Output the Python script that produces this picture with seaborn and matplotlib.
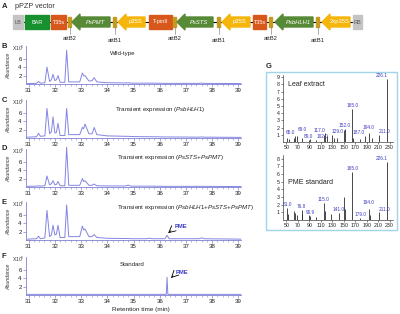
import matplotlib
matplotlib.use('Agg')
import matplotlib.pyplot as plt
from matplotlib.patches import Rectangle, Polygon
import seaborn as sns

sns.set_theme(style='white')
plt.rcParams['font.family'] = ['Liberation Sans', 'DejaVu Sans']
plt.rcParams['mathtext.fontset'] = 'custom'
plt.rcParams['mathtext.it'] = 'Liberation Sans:italic'
plt.rcParams['mathtext.rm'] = 'Liberation Sans'

W, H = 400, 314

# ---- panel A: construct elements (left to right) ----
parts = ['LB', 'BAR', 'T35s', 'attB2', 'PsPMT', 'attB1', 'p35S', 'T-pinII', 'attB2',
         'PsSTS', 'attB1', 'p35S', 'T35s', 'attB2', 'PsbHLH1', 'attB1', '2xp35S', 'RB']
kinds = ['end', 'bar', 'term', 'att', 'gene', 'att', 'prom', 'term', 'att',
         'gene', 'att', 'prom', 'term', 'att', 'gene', 'att', 'prom', 'end']
spans = [(13, 23), (25, 49), (51, 66), (68, 71), (72, 110), (113, 116), (118, 145),
         (149, 172), (173, 176), (177, 213), (217, 220), (222, 250), (253, 266),
         (269, 272), (275, 313), (316, 319), (322, 350), (353, 362)]

# ---- panels B-F: chromatogram vertices (retention time, abundance x10^6) ----
rt = [30.95, 31.3, 31.38, 31.45, 31.62, 31.7, 31.8, 31.87, 31.93, 32.0, 32.06, 32.12, 32.2,
      32.38, 32.45, 32.53, 32.95, 33.05, 33.1, 33.15, 33.3, 33.42, 33.5, 33.6, 34.0,
      34.7, 34.8, 34.9, 35.5, 35.6, 35.7, 36.2, 36.28, 36.36, 37.5, 37.6, 37.7, 39.1]
abund_wt = [0.1, 0.15, 0.6, 0.2, 0.3, 4.0, 0.6, 1.0, 2.3, 0.8, 1.0, 2.0, 0.4, 0.4, 8.0, 0.5,
            0.5, 2.6, 1.9, 2.0, 0.7, 0.8, 1.5, 0.5, 0.3, 0.25, 0.3, 0.2, 0.2, 0.2, 0.2,
            0.15, 0.15, 0.15, 0.15, 0.2, 0.15, 0.1]
abund_bhlh = [0.2, 0.3, 1.1, 0.4, 0.5, 7.0, 1.0, 1.5, 5.0, 1.2, 1.3, 3.5, 0.6, 0.6, 7.0, 0.8,
              0.8, 2.5, 2.2, 3.3, 1.0, 1.0, 2.5, 0.8, 0.5, 0.4, 0.4, 0.35, 0.3, 0.3, 0.3,
              0.25, 0.25, 0.25, 0.2, 0.25, 0.2, 0.15]
abund_sts_pmt = [0.15, 0.2, 0.3, 0.2, 0.3, 2.6, 0.5, 0.8, 1.5, 0.5, 0.6, 1.3, 0.3, 0.3, 9.4,
                 0.4, 0.4, 2.0, 1.3, 1.5, 0.4, 0.4, 0.7, 0.3, 0.25, 0.25, 0.45, 0.2, 0.2,
                 0.2, 0.2, 0.15, 0.15, 0.15, 0.15, 0.15, 0.15, 0.1]
abund_all3 = [0.2, 0.3, 0.9, 0.3, 0.5, 7.0, 0.8, 1.2, 3.5, 1.2, 1.4, 3.5, 0.6, 0.6, 8.3, 0.8,
              0.8, 3.3, 2.4, 2.6, 0.8, 0.8, 1.3, 0.6, 0.4, 0.35, 0.35, 0.3, 0.3, 0.45, 0.3,
              0.3, 1.1, 0.3, 0.3, 0.5, 0.3, 0.2]
rt_std = [30.95, 36.25, 36.28, 36.31, 39.1]
abund_std = [0.15, 0.15, 4.2, 0.15, 0.15]

# ---- panel G: mass spectra ----
mz_leaf = [51, 55, 63, 65, 69, 77, 89, 91, 102, 115, 117, 120, 129, 133, 139, 150, 152,
           165, 167, 179, 187, 194, 200, 211, 226.1]
int_leaf = [0.5, 0.4, 0.6, 0.9, 0.9, 0.6, 0.3, 0.4, 0.3, 1.0, 1.2, 0.8, 1.0, 0.6, 0.5,
            1.6, 1.8, 4.6, 0.5, 0.4, 0.9, 1.3, 0.5, 1.0, 8.8]
lab_leaf = ['65.0', '69.0', '89.0', '102.0', '117.0', '129.0', '152.0', '165.0', '187.0',
            '194.0', '211.0', '226.1']
mz_std = [51, 53, 63, 65, 69, 76.8, 78, 89, 90.9, 102, 115, 117, 128, 141, 150, 152, 165,
          179, 194, 195, 211, 226.1]
int_std = [1.6, 0.8, 1.2, 0.9, 0.7, 1.3, 0.8, 0.6, 0.5, 0.4, 2.2, 1.2, 0.8, 0.9, 3.0, 1.5,
           6.3, 0.3, 1.5, 0.6, 1.0, 7.6]
lab_std = ['51.0', '76.8', '90.9', '115.0', '141.0', '165.0', '179.0', '194.0', '211.0',
           '226.1']

TRACE = '#8484e4'
AXC = '#8080d0'
LABC = '#3b3bc0'

# label placement (alignment, extra lift) to keep crowded peak labels apart
place = {'65.0': ('right', 0.1), '69.0': ('left', 0.45), '89.0': ('center', 0.1),
         '102.0': ('left', 0.1), '117.0': ('right', 0.1), '129.0': ('left', 0.1),
         '187.0': ('right', 0.1), '194.0': ('center', 0.4), '211.0': ('left', 0.1),
         '226.1': ('right', 0.1), '179.0': ('center', 0.1)}


def rect(x0, y0, x1, y1):
    return [x0 / W, 1 - y1 / H, (x1 - x0) / W, (y1 - y0) / H]


fig = plt.figure(figsize=(4, 3.14), dpi=100)
ax0 = fig.add_axes([0, 0, 1, 1])
ax0.set_xlim(0, W)
ax0.set_ylim(H, 0)
ax0.axis('off')

# panel A
ax0.text(2, 6, 'A', fontsize=5.5, fontweight='bold', va='center')
ax0.text(15, 7, 'pPZP vector', fontsize=5.2, color='#333333', va='center')
yc = 22
ax0.plot([13, 362], [yc, yc], color='black', lw=0.8, zorder=1)
fills = {'end': '#c4c4c4', 'bar': '#17902e', 'term': '#d8581c', 'att': '#c79a1e',
         'gene': '#578a36', 'prom': '#f5b50a'}
for name, kind, (x0, x1) in zip(parts, kinds, spans):
    c = fills[kind]
    if kind == 'att':
        ax0.add_patch(Rectangle((x0, yc - 5), x1 - x0, 10, color=c, zorder=2))
        xm = (x0 + x1) / 2
        ax0.plot([xm, xm], [yc + 5, 34], color='#888888', lw=0.5)
        ax0.text(xm, 39 if name == 'attB2' else 40, name, fontsize=4.2, ha='center',
                 va='center', color='#222222')
    elif kind in ('gene', 'prom'):
        hl = 8
        pts = [(x0, yc), (x0 + hl, yc - 8), (x0 + hl, yc - 5), (x1, yc - 5), (x1, yc + 5),
               (x0 + hl, yc + 5), (x0 + hl, yc + 8)]
        ax0.add_patch(Polygon(pts, closed=True, color=c, zorder=2))
        style = 'italic' if kind == 'gene' else 'normal'
        ax0.text((x0 + hl + x1) / 2, yc, name, fontsize=4.2, ha='center', va='center',
                 color='white', style=style, zorder=3)
    else:
        ax0.add_patch(Rectangle((x0, yc - 7), x1 - x0, 14, color=c, zorder=2))
        ax0.text((x0 + x1) / 2, yc, name, fontsize=4.0, ha='center', va='center',
                 color='white' if kind != 'end' else '#555555', zorder=3)

# panels B-F
chrom = [
    ('B', 46, rt, abund_wt, 'Wild-type', 'center', 123, 53),
    ('C', 100, rt, abund_bhlh, r'Transient expression ($\it{PsbHLH1}$)', 'left', 115, 109),
    ('D', 149, rt, abund_sts_pmt, r'Transient expression ($\it{PsSTS}$+$\it{PsPMT}$)',
     'left', 117, 157),
    ('E', 202, rt, abund_all3,
     r'Transient expression ($\it{PsbHLH1}$+$\it{PsSTS}$+$\it{PsPMT}$)', 'left', 117, 208),
    ('F', 257, rt_std, abund_std, 'Standard', 'center', 132, 264),
]
for letter, top, xs, ys, title, ha, tx, ty in chrom:
    ax = fig.add_axes(rect(26, top, 241, top + 38))
    ax.set_facecolor('none')
    sns.lineplot(x=xs, y=ys, ax=ax, color=TRACE, lw=0.7, sort=False)
    for ln in ax.lines:
        ln.set_clip_on(False)
    ax.set_xlim(30.9, 39.1)
    ax.set_ylim(0, 9)
    ax.set_xticks(range(31, 40))
    ax.set_xticks([31 + 0.2 * i for i in range(41)], minor=True)
    ax.set_yticks([2, 4, 6])
    sns.despine(ax=ax)
    for s in ('left', 'bottom'):
        ax.spines[s].set_color(AXC)
        ax.spines[s].set_linewidth(0.6)
    ax.tick_params(axis='both', which='major', labelsize=4.4, length=2, width=0.5,
                   color=AXC, pad=1, labelcolor='#222222', bottom=True, left=True)
    ax.tick_params(axis='x', which='minor', length=1.2, width=0.4, color=AXC, bottom=True)
    ax.set_xlabel('')
    ax.set_ylabel('')
    ax0.text(2, top, letter, fontsize=5.5, fontweight='bold', va='center')
    ax0.text(12, top + 2, r'X10$^6$', fontsize=3.6, va='center', color='#333333')
    ax0.text(9, top + 20, 'Abundance', fontsize=3.8, rotation=90, style='italic',
             ha='center', va='center', color='#333333')
    ax0.text(tx, ty, title, fontsize=4.4, ha=ha, va='center', color='#222222')

# PME annotations
ax0.text(175, 226, 'PME', fontsize=4.2, color=LABC, fontweight='bold', va='center')
ax0.annotate('', xy=(166, 235), xytext=(173, 229),
             arrowprops=dict(arrowstyle='->', color='black', lw=0.6))
ax0.text(176, 272, 'PME', fontsize=4.2, color=LABC, fontweight='bold', va='center')
ax0.annotate('', xy=(169, 280), xytext=(175, 274),
             arrowprops=dict(arrowstyle='->', color='black', lw=0.6))
ax0.text(141, 309, 'Retention time (min)', fontsize=4.6, ha='center', va='center',
         color='#222222')

# panel G
ax0.text(266, 66, 'G', fontsize=5.5, fontweight='bold', va='center')
ax0.add_patch(Rectangle((266, 72), 131, 158, fill=False, edgecolor='#9fd6ea', lw=1.0))

spectra = [
    (75, 142, mz_leaf, int_leaf, lab_leaf, 'Leaf extract', 84, 9.3, range(1, 10)),
    (155, 220, mz_std, int_std, lab_std, 'PME standard', 182, 8.5, range(1, 9)),
]
for top, bot, mz, inten, labs, name, ny, ymax, yt in spectra:
    ax = fig.add_axes(rect(283, top, 393, bot))
    ax.set_facecolor('none')
    ax.vlines(mz, 0, inten, color='#2b2b2b', lw=0.6)
    for m, v in zip(mz, inten):
        lab = '%.1f' % m
        if lab in labs:
            ha, dy = place.get(lab, ('center', 0.1))
            ax.text(m, v + dy, lab, fontsize=3.4, color=LABC, ha=ha, va='bottom')
    ax.set_xlim(44, 236)
    ax.set_ylim(0, ymax)
    ax.set_xticks(range(50, 231, 20))
    ax.set_yticks(list(yt))
    sns.despine(ax=ax)
    for s in ('left', 'bottom'):
        ax.spines[s].set_color('#444444')
        ax.spines[s].set_linewidth(0.5)
    ax.tick_params(axis='both', labelsize=3.8, length=1.5, width=0.4, pad=1,
                   labelcolor='#222222', bottom=True, left=True)
    ax0.text(288, ny, name, fontsize=5, va='center', color='#222222')

fig.savefig('out.png', dpi=100)
